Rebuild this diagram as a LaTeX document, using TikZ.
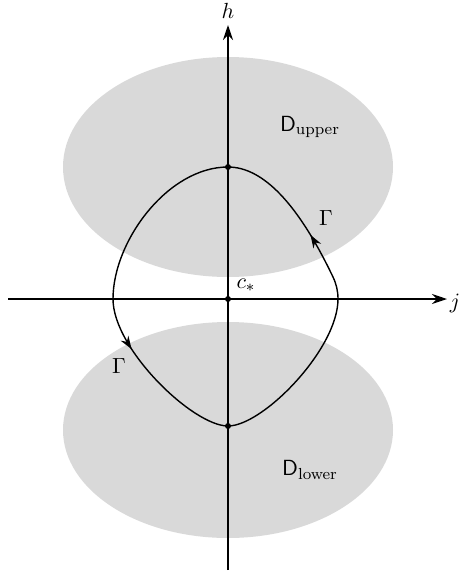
\documentclass[tikz,border=0pt]{standalone}
\usepackage{amsmath,amssymb}
\usepackage{xcolor}
\usepackage{tikz}
\usetikzlibrary{arrows.meta,decorations.markings}
\definecolor{RegionGray}{HTML}{D9D9D9}

\begin{document}
\begin{tikzpicture}[x=0.5pt,y=-0.5pt,
    every node/.style={font=\fontsize{11}{13}\selectfont},
    ax/.style={-{Stealth[length=7.5pt,width=5pt]},line width=0.7pt},
    region/.style={fill=RegionGray},
    orbit/.style={line width=0.7pt},
    flow/.style={postaction={decorate},decoration={markings,
      mark=at position #1 with {\arrow{Stealth[length=6.5pt,width=4.5pt]}}}},
    dot/.style={circle,fill=black,inner sep=0pt,minimum size=3pt}]
  \useasboundingbox (0,0) rectangle (459,574);
  % shaded domains
  \fill[region] (228,167) ellipse [x radius=82.5pt,y radius=55pt];
  \fill[region] (228,430) ellipse [x radius=82.5pt,y radius=54pt];
  % axes
  \coordinate (hlo) at (228,570); \coordinate (htip) at (228,25);
  \coordinate (jlo) at (8,299);   \coordinate (jtip) at (447,299);
  \draw[ax] (hlo) -- (htip);
  \draw[ax] (jlo) -- (jtip);
  % the closed curve Gamma
  \coordinate (top) at (228,167); \coordinate (bot) at (228,426);
  \coordinate (lft) at (113,299); \coordinate (rgt) at (338,299);
  \coordinate (bend) at (333,277);
  \coordinate (cstar) at (228,299);
  \draw[orbit] (top) .. controls (168,167) and (113,241) .. (lft);
  \draw[orbit,flow=0.3] (lft) .. controls (113,349) and (193,426) .. (bot);
  \draw[orbit] (bot) .. controls (263,426) and (338,349) .. (rgt);
  \draw[orbit] (rgt) .. controls (338,291) and (336.4,284.2) .. (bend);
  \draw[orbit,flow=0.3] (bend) .. controls (298,203.7) and (263,167) .. (top);
  \node[dot] (dtop) at (top) {};
  \node[dot] (dbot) at (bot) {};
  \node[dot] (dc) at (cstar) {};
  % labels
  \node (hlab) at (228,11) {$h$};
  \node (jlab) at (455,303) {$j$};
  \node (clab) at (246,285) {$c_*$};
  \node (gup) at (326,218) {$\Gamma$};
  \node (glo) at (119,366) {$\Gamma$};
  \node (dup) at (310,127) {$\mathsf{D}_{\mathrm{upper}}$};
  \node (dlo) at (310,470) {$\mathsf{D}_{\mathrm{lower}}$};
\end{tikzpicture}
\end{document}
